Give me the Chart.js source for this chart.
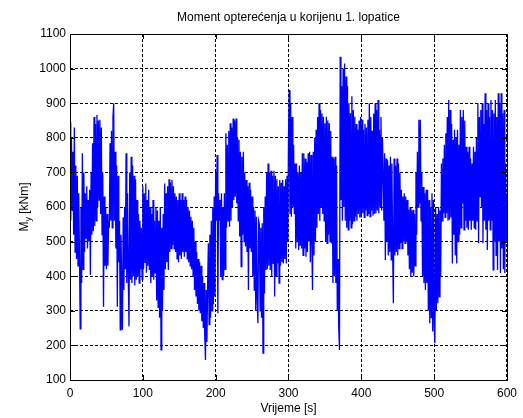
<!DOCTYPE html>
<html lang="en">
<head>
    <meta charset="UTF-8">
    <title>Moment opterećenja u korijenu 1. lopatice</title>
    <script src="https://cdn.jsdelivr.net/npm/chart.js"></script>
    <style>
        html, body { margin: 0; padding: 0; background: #fff; }
        .chart-container { position: relative; width: 523px; height: 418px; }
    </style>
</head>
<body>
    <div class="chart-container"><canvas id="chart" width="523" height="418"></canvas></div>

    <script>
        // texts
        const chartTitle = 'Moment opterećenja u korijenu 1. lopatice';
        const xTitle = 'Vrijeme [s]';
        const yTitleMain = 'M';
        const yTitleSub = 'y';
        const yTitleRest = ' [kNm]';

        // axes
        const xTicks = [0, 100, 200, 300, 400, 500, 600];
        const yTicks = [100, 200, 300, 400, 500, 600, 700, 800, 900, 1000, 1100];

        // sample spacing in seconds
        const sampleStep = 1;

        // root bending moment My [kNm], one value per second
        const moment = [
            845, 560, 800, 590, 760, 520, 830, 470, 720, 450,
            690, 430, 640, 470, 248, 600, 380, 755, 420, 700,
            470, 640, 510, 660, 480, 620, 500, 650, 404, 700,
            520, 784, 530, 860, 545, 840, 560, 866, 600, 850,
            620, 852, 580, 830, 520, 700, 312, 630, 430, 600,
            420, 580, 430, 560, 540, 784, 560, 820, 540, 860,
            900, 560, 760, 480, 720, 312, 690, 440, 560, 245,
            520, 380, 245, 570, 360, 600, 420, 755, 380, 640,
            400, 255, 700, 390, 745, 380, 720, 400, 690, 373,
            680, 390, 620, 400, 580, 380, 560, 420, 540, 390,
            660, 420, 640, 440, 668, 410, 620, 430, 650, 418,
            600, 380, 580, 400, 620, 390, 560, 410, 600, 330,
            590, 310, 560, 280, 600, 187, 540, 300, 580, 360,
            668, 420, 640, 440, 660, 418, 680, 470, 670, 480,
            678, 490, 660, 480, 640, 470, 630, 450, 620, 440,
            640, 460, 620, 450, 640, 470, 620, 456, 630, 470,
            620, 450, 600, 440, 590, 430, 572, 420, 560, 400,
            540, 360, 500, 341, 470, 320, 450, 300, 440, 293,
            430, 270, 400, 250, 380, 230, 158, 360, 210, 380,
            495, 260, 520, 280, 560, 300, 600, 320, 630, 341,
            700, 560, 750, 293, 640, 560, 620, 400, 640, 390,
            600, 400, 640, 420, 813, 540, 780, 560, 820, 543,
            842, 560, 830, 600, 856, 620, 850, 630, 856, 610,
            800, 560, 794, 515, 760, 428, 745, 520, 760, 500,
            700, 486, 678, 470, 660, 360, 670, 480, 650, 470,
            630, 400, 600, 360, 590, 300, 572, 330, 264, 560,
            550, 300, 540, 280, 553, 178, 600, 350, 630, 418,
            700, 420, 726, 430, 700, 418, 705, 400, 690, 437,
            705, 341, 690, 400, 680, 437, 660, 380, 678, 430,
            670, 440, 678, 437, 660, 450, 680, 437, 690, 500,
            800, 938, 580, 900, 572, 860, 600, 780, 580, 726,
            480, 726, 500, 700, 476, 720, 490, 700, 480, 755,
            460, 755, 480, 740, 456, 730, 470, 755, 500, 760,
            440, 750, 495, 360, 760, 460, 800, 500, 823, 540,
            860, 580, 900, 560, 880, 600, 870, 580, 861, 560,
            842, 500, 861, 495, 850, 520, 842, 500, 820, 495,
            745, 380, 740, 400, 745, 380, 720, 300, 450, 250,
            187, 1034, 620, 950, 560, 1000, 600, 1015, 560, 977,
            540, 950, 534, 900, 560, 871, 540, 920, 550, 880,
            560, 861, 572, 840, 560, 823, 580, 850, 570, 860,
            570, 852, 582, 823, 570, 840, 590, 830, 575, 852,
            580, 900, 572, 860, 590, 820, 575, 870, 580, 900,
            582, 880, 590, 909, 582, 823, 600, 860, 590, 800,
            700, 560, 755, 447, 740, 500, 735, 460, 720, 470,
            745, 447, 726, 470, 322, 740, 460, 720, 470, 740,
            460, 726, 480, 700, 495, 650, 480, 630, 500, 640,
            495, 630, 500, 620, 460, 592, 420, 600, 399, 590,
            410, 592, 399, 580, 430, 700, 520, 760, 600, 852,
            610, 852, 560, 700, 400, 658, 380, 640, 360, 650,
            380, 649, 300, 620, 264, 600, 280, 640, 240, 620,
            260, 206, 600, 300, 580, 322, 600, 340, 590, 400,
            726, 560, 740, 582, 780, 570, 813, 582, 860, 560,
            909, 563, 880, 570, 840, 437, 794, 520, 823, 460,
            800, 437, 823, 500, 780, 520, 880, 540, 860, 610,
            880, 534, 850, 560, 774, 540, 760, 534, 774, 560,
            740, 534, 726, 560, 774, 540, 760, 534, 800, 560,
            900, 495, 860, 630, 880, 600, 900, 495, 840, 560,
            929, 534, 880, 476, 900, 560, 860, 534, 909, 560,
            880, 418, 870, 500, 909, 460, 860, 418, 929, 500,
            900, 409, 929, 480, 870, 420, 880, 409, 726, 500,
            640
        ];

        const times = moment.map((_, i) => i * sampleStep);
        const points = times.map((t, i) => ({ x: t, y: moment[i] }));

        const FAMILY = '"Liberation Sans", Arial, sans-serif';
        const FONT = '12px ' + FAMILY;

        // MATLAB-like frame: box, inward ticks and the texts
        const matlabFrame = {
            id: 'matlabFrame',
            afterDatasetsDraw(chart) {
                const ctx = chart.ctx;
                const a = chart.chartArea;
                const xs = chart.scales.x, ys = chart.scales.y;
                ctx.save();
                ctx.strokeStyle = '#000';
                ctx.lineWidth = 1;
                ctx.setLineDash([]);
                ctx.beginPath();
                xTicks.forEach(v => {
                    const px = Math.round(xs.getPixelForValue(v)) + 0.5;
                    ctx.moveTo(px, a.bottom); ctx.lineTo(px, a.bottom - 5);
                    ctx.moveTo(px, a.top); ctx.lineTo(px, a.top + 5);
                });
                yTicks.forEach(v => {
                    const py = Math.round(ys.getPixelForValue(v)) + 0.5;
                    ctx.moveTo(a.left, py); ctx.lineTo(a.left + 5, py);
                    ctx.moveTo(a.right, py); ctx.lineTo(a.right - 5, py);
                });
                ctx.stroke();
                ctx.strokeRect(Math.round(a.left) + 0.5, Math.round(a.top) + 0.5,
                    Math.round(a.right - a.left), Math.round(a.bottom - a.top));

                ctx.fillStyle = '#000';
                ctx.font = FONT;
                ctx.textAlign = 'center';
                ctx.textBaseline = 'middle';
                const cx = (a.left + a.right) / 2;
                ctx.fillText(chartTitle, cx, 18);
                ctx.fillText(xTitle, cx, 409);

                // y label with subscript
                ctx.translate(24, (a.top + a.bottom) / 2);
                ctx.rotate(-Math.PI / 2);
                ctx.textAlign = 'left';
                ctx.textBaseline = 'alphabetic';
                const subFont = '9px ' + FAMILY;
                const wM = ctx.measureText(yTitleMain).width;
                ctx.font = subFont;
                const wS = ctx.measureText(yTitleSub).width;
                ctx.font = FONT;
                const wR = ctx.measureText(yTitleRest).width;
                const x0 = -(wM + wS + wR) / 2;
                ctx.fillText(yTitleMain, x0, 4);
                ctx.font = subFont;
                ctx.fillText(yTitleSub, x0 + wM, 7);
                ctx.font = FONT;
                ctx.fillText(yTitleRest, x0 + wM + wS, 4);
                ctx.restore();
            }
        };

        new Chart(document.getElementById('chart').getContext('2d'), {
            type: 'line',
            data: {
                datasets: [{
                    data: points,
                    borderColor: '#0000ff',
                    borderWidth: 1.3,
                    pointRadius: 0,
                    tension: 0,
                    fill: false
                }]
            },
            options: {
                responsive: false,
                maintainAspectRatio: false,
                animation: false,
                events: [],
                parsing: false,
                layout: { padding: { top: 34, right: 13, left: 0, bottom: 0 } },
                plugins: { legend: { display: false }, title: { display: false }, tooltip: { enabled: false } },
                scales: {
                    x: {
                        type: 'linear',
                        min: 0, max: 600,
                        afterBuildTicks: s => { s.ticks = xTicks.map(v => ({ value: v })); },
                        afterFit: s => { s.height = 38; },
                        grid: { color: '#000', lineWidth: 1, drawTicks: false },
                        border: { display: false, dash: [3, 2] },
                        ticks: { color: '#000', font: { family: FAMILY, size: 12 }, padding: 6, maxRotation: 0, autoSkip: false, callback: v => String(v) }
                    },
                    y: {
                        type: 'linear',
                        min: 100, max: 1100,
                        afterBuildTicks: s => { s.ticks = yTicks.map(v => ({ value: v })); },
                        afterFit: s => { s.width = 70; },
                        grid: { color: '#000', lineWidth: 1, drawTicks: false },
                        border: { display: false, dash: [3, 2] },
                        ticks: { color: '#000', font: { family: FAMILY, size: 12 }, padding: 4, autoSkip: false, callback: v => String(v) }
                    }
                }
            },
            plugins: [matlabFrame]
        });
    </script>
</body>
</html>
